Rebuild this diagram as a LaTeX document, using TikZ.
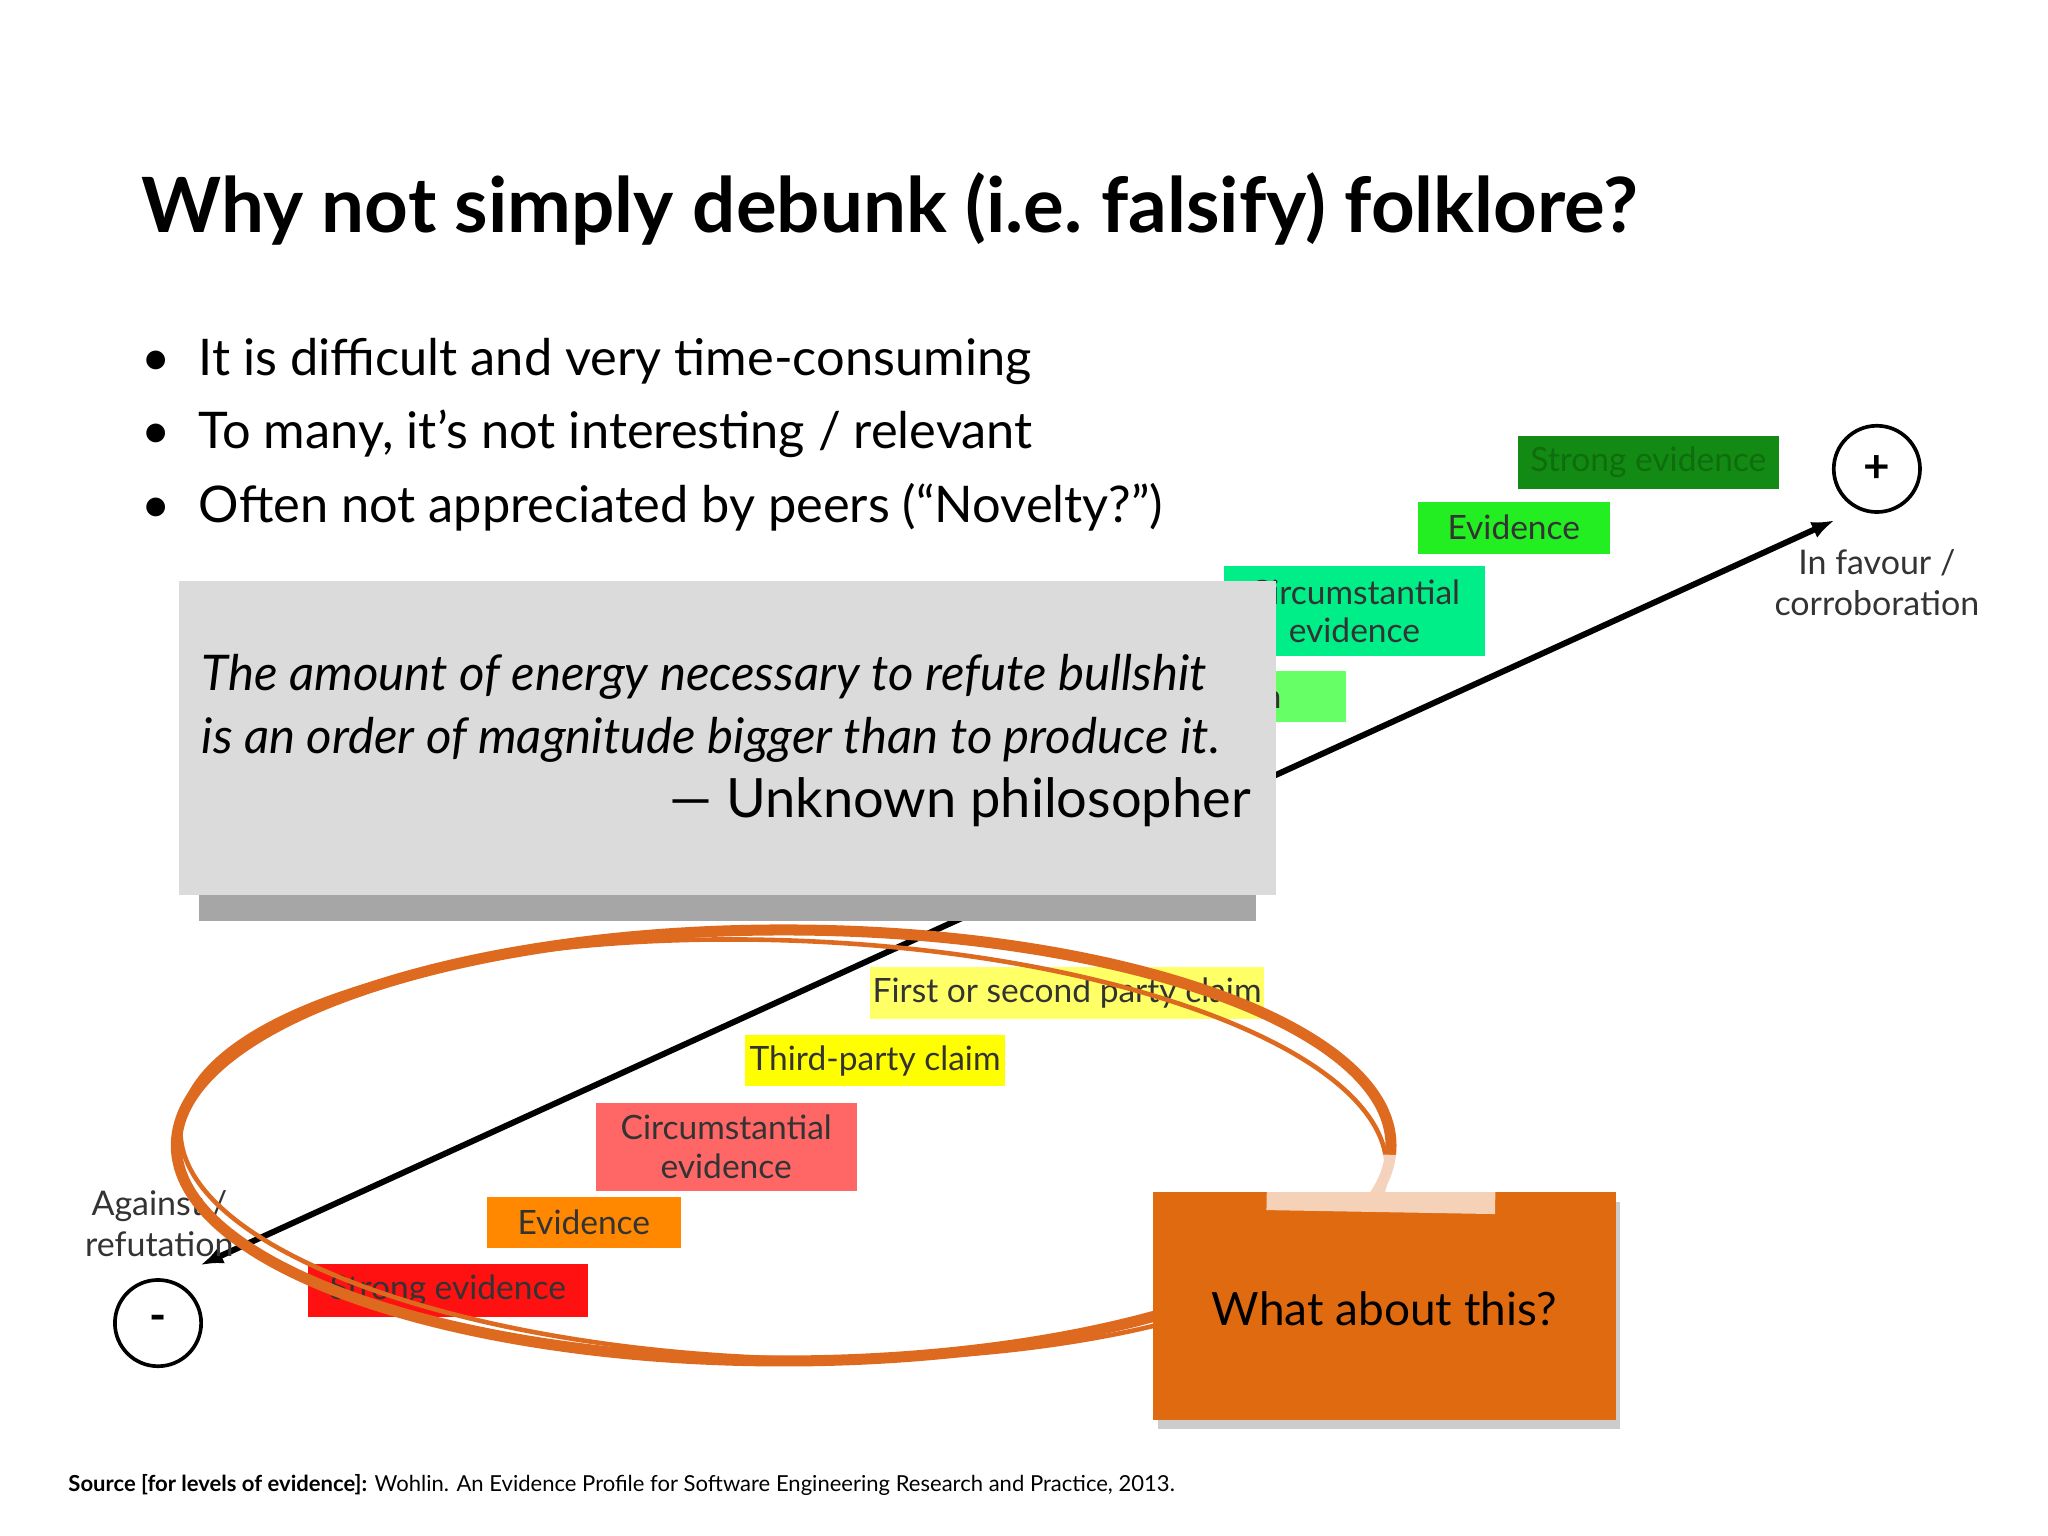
\documentclass[tikz,border=0pt]{standalone}
\usepackage{fontspec}
\setmainfont{Lato}
\usetikzlibrary{arrows.meta,shadows}
\definecolor{dg}{HTML}{138A13}
\definecolor{dgt}{HTML}{0E6E0E}
\definecolor{lg}{HTML}{22EE22}
\definecolor{mg}{HTML}{00EE88}
\definecolor{pg}{HTML}{66FF66}
\definecolor{ly}{HTML}{FFFF66}
\definecolor{yy}{HTML}{FFFF00}
\definecolor{pr}{HTML}{FF6666}
\definecolor{or}{HTML}{FF8800}
\definecolor{rr}{HTML}{FF1111}
\definecolor{ell}{HTML}{DD6A1E}
\definecolor{note}{HTML}{E06A10}
\tikzset{lvl/.style={inner sep=0pt,align=center,font=\fontsize{7.3}{8.4}\selectfont,text=black!80},
 lbl/.style={align=center,font=\fontsize{7.4}{9}\selectfont,text=black!80}}
\begin{document}
\begin{tikzpicture}[x=0.01cm,y=-0.01cm]
\useasboundingbox (0,0) rectangle (1568,1176);
\node[anchor=west,font=\fontsize{16.6}{18}\bfseries\selectfont] (title) at (96,160) {Why not simply debunk (i.e.\ falsify) folklore?};
\foreach \y/\t [count=\i] in {277/{It is difficult and very time-consuming},332/{To many, it’s not interesting / relevant},388/{Often not appreciated by peers (“Novelty?”)}}
 {\node[anchor=west,font=\fontsize{11}{13}\selectfont] (b\i) at (96,\y) {•\hspace{0.55em}\t};}
% circles
\node[draw,circle,minimum size=0.66cm,thick,font=\bfseries] (minus) at (121,1013) {-};
\node[draw,circle,minimum size=0.66cm,thick,font=\bfseries] (plus) at (1437,359) {+};
\draw[line width=1.3pt,{Latex[length=5pt]}-{Latex[length=5pt]}] (minus.45) ++(8,-20) coordinate (m1) (plus.225) ++(-8,15) coordinate (p1) (m1) -- (p1);
\node[lbl] (inf) at (1437,446) {In favour /\\corroboration};
\node[lbl] (ag) at (122,937) {Against /\\refutation};
% green boxes
\node[lvl,fill=dg,text=dgt,minimum width=2cm,minimum height=0.4cm] (g1) at (1262,354) {Strong evidence};
\node[lvl,fill=lg,minimum width=1.47cm,minimum height=0.4cm] (g2) at (1159,404) {Evidence};
\node[lvl,fill=mg,minimum width=2cm,minimum height=0.69cm] (g3) at (1037,468) {Circumstantial\\evidence};
\node[lvl,fill=pg,minimum width=0.94cm,minimum height=0.39cm,anchor=east] (g4) at (1031,533) {\hspace{14pt}claim\hspace{14pt}};
% quote box
\fill[black!35] (152,560) rectangle (962,705);
\node[fill=black!14,minimum width=8.4cm,minimum height=2.4cm,inner sep=0pt] (q) at (557,565) {};
\node[anchor=west,font=\fontsize{10.7}{13.7}\itshape\selectfont,align=left] (qt) at (142,542) {The amount of energy necessary to refute bullshit\\is an order of magnitude bigger than to produce it.};
\node[anchor=east,font=\fontsize{11.8}{14}\selectfont] (qa) at (970,614) {— Unknown philosopher};
% yellow/red boxes
\node[lvl,fill=ly,minimum width=3.02cm,minimum height=0.4cm] (r1) at (817,760) {First or second party claim};
\node[lvl,fill=yy,minimum width=1.99cm,minimum height=0.39cm] (r2) at (670,812) {Third-party claim};
\node[lvl,fill=pr,minimum width=2cm,minimum height=0.67cm] (r3) at (556,878) {Circumstantial\\evidence};
\node[lvl,fill=or,minimum width=1.48cm,minimum height=0.39cm] (r4) at (447,936) {Evidence};
\node[lvl,fill=rr,minimum width=2.14cm,minimum height=0.4cm] (r5) at (343,988) {Strong evidence};
% ellipse
\draw[ell,line width=2.4pt] (600,877) ellipse [x radius=465,y radius=165];
\draw[ell,line width=1pt,rotate around={-2:(600,877)}] (600,880) ellipse [x radius=462,y radius=160];
% sticky note
\node[fill=note,minimum width=3.54cm,minimum height=1.74cm,inner sep=0pt,drop shadow={opacity=0.4,shadow xshift=1pt,shadow yshift=-2pt}] (n) at (1060,1000) {};
\node[font=\fontsize{10}{12}\selectfont] (nt) at (1060,1002) {What about this?};
\fill[white,opacity=0.7,rotate around={-1:(1057,906)}] (970,884) rectangle (1145,928);
\node[anchor=west,font=\fontsize{4.8}{6}\selectfont] (src) at (40,1137) {\textbf{Source [for levels of evidence]:} Wohlin. An Evidence Profile for Software Engineering Research and Practice, 2013.};
\end{tikzpicture}
\end{document}
